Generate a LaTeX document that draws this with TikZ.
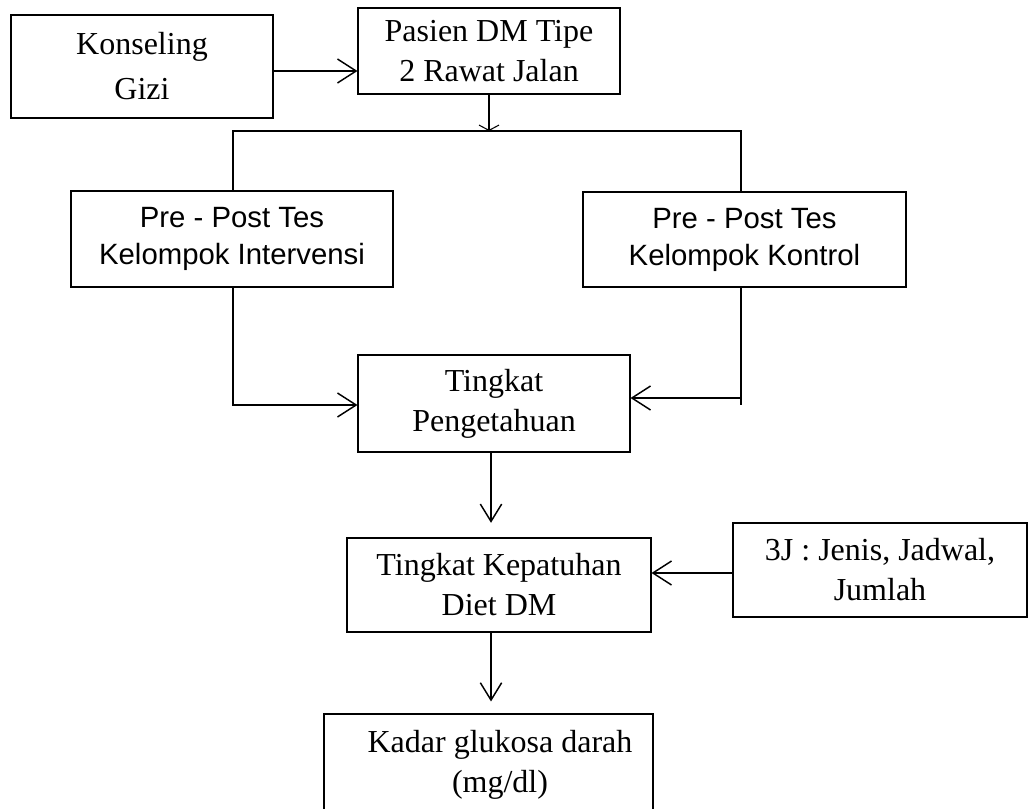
\documentclass[tikz,border=0pt]{standalone}
\usepackage{fontspec}
\setmainfont{Liberation Serif}
\setsansfont{Liberation Sans}
\usetikzlibrary{arrows.meta}
\tikzset{
  box/.style={draw, line width=0.8pt, rectangle, inner sep=0pt, align=center,
    font=\fontsize{24}{30}\selectfont},
  sbox/.style={box, font=\sffamily\fontsize{22}{27.75}\selectfont},
  conn/.style={line width=1.1pt},
  arr/.style={conn, -{Straight Barb[length=14pt,width=18pt,line width=1.1pt]}},
  varr/.style={conn, -{Straight Barb[length=13pt,width=16pt,line width=1.1pt]}},
  smallarr/.style={conn, -{Straight Barb[length=4pt,width=15pt,line width=0.8pt]}},
}
\begin{document}
\begin{tikzpicture}[x=0.75pt,y=-0.75pt]
\clip (0,0) rectangle (1031,809);
\fill[white] (0,0) rectangle (1031,809);

\node[box, minimum width=196.5pt, minimum height=77.25pt,
  font=\fontsize{24}{33.75}\selectfont] (konseling) at (142,66.5) {Konseling\\Gizi};
\node[box, minimum width=196.5pt, minimum height=64.5pt] (pasien) at (489,51) {Pasien DM Tipe\\2 Rawat Jalan};
\node[sbox, minimum width=241.5pt, minimum height=72pt] (interv) at (232,239) {Pre - Post Tes\\Kelompok Intervensi};
\node[sbox, minimum width=242.25pt, minimum height=71.25pt] (kontrol) at (744.5,239.5) {Pre - Post Tes\\Kelompok Kontrol};
\node[box, minimum width=204pt, minimum height=72.75pt] (tingkat) at (494,403.5) {Tingkat\\Pengetahuan};
\node[box, minimum width=228pt, minimum height=70.5pt] (kepatuhan) at (499,585) {Tingkat Kepatuhan\\Diet DM};
\node[box, minimum width=220.5pt, minimum height=70.5pt] (j3) at (880,570) {3J : Jenis, Jadwal,\\Jumlah};
\node[box, minimum width=246.75pt, minimum height=90pt] (kadar) at (488.5,774) {};
\node[align=center, inner sep=0pt, font=\fontsize{24}{30}\selectfont] (kadartxt) at (500,765) {Kadar glukosa darah\\(mg/dl)};

% coordinates for bends
\coordinate (hl) at (233,131);
\coordinate (hr) at (741,131);
\coordinate (bl) at (233,405);
\coordinate (br) at (741,405);
\coordinate (brr) at (741,398);
\coordinate (ka) at (273,71);

\draw[arr] (ka) -- (pasien.west |- ka);
\draw[smallarr] (pasien.south) -- (pasien.south |- hl);
\draw[conn] (interv.north -| hl) -- (hl) -- (hr) -- (kontrol.north -| hr);
\draw[arr] (interv.south -| bl) -- (bl) -- (tingkat.west |- bl);
\draw[conn] (kontrol.south -| br) -- (br);
\draw[arr] (brr) -- (tingkat.east |- brr);
\draw[varr, shorten >=11pt] (tingkat.south -| 491,0) -- (kepatuhan.north -| 491,0);
\draw[arr] (j3.west |- 0,573) -- (kepatuhan.east |- 0,573);
\draw[varr, shorten >=9pt] (kepatuhan.south -| 491,0) -- (kadar.north -| 491,0);
\end{tikzpicture}
\end{document}
